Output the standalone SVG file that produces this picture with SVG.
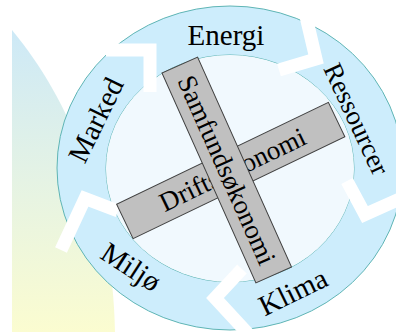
<svg xmlns="http://www.w3.org/2000/svg" width="396" height="332" viewBox="0 0 396 332">
<defs>
<linearGradient id="bg" x1="0" y1="30" x2="0" y2="332" gradientUnits="userSpaceOnUse">
<stop offset="0" stop-color="#cde9f7"/>
<stop offset="0.5" stop-color="#e5f3e4"/>
<stop offset="1" stop-color="#fbfcd0"/>
</linearGradient>
<style>
.lbl{font-family:"Liberation Serif","Times New Roman",serif;fill:#000;text-anchor:middle}
.gap{fill:none;stroke:#fff;stroke-width:13;stroke-linejoin:miter;stroke-miterlimit:10;stroke-linecap:butt}
.bar{fill:#c0c0c0;stroke:#404040;stroke-width:1}
</style>
</defs>
<rect width="396" height="332" fill="#fff"/>
<path id="backdrop" d="M12,30 C70,100 112,200 115,332 L12,332 Z" fill="url(#bg)"/>
<g id="ring">
<path d="M57,168 a173,162 0 1,0 346,0 a173,162 0 1,0 -346,0 Z M106,168.5 a124,113.5 0 1,0 248,0 a124,113.5 0 1,0 -248,0 Z" fill="#cdedfc" fill-rule="evenodd" stroke="#5fb5b5" stroke-width="1"/>
<ellipse cx="230" cy="168.5" rx="124" ry="113.5" fill="#f1f9fe"/>
</g>
<g id="connectors">
<polyline class="gap" points="106,50 150,50 150,92"/>
<polyline class="gap" points="304,8 316,59 279,70"/>
<polyline class="gap" points="347,181 365,214.5 404,197"/>
<polyline class="gap" points="242,269 215,298 252,338"/>
<polyline class="gap" points="61,250 85,198.5 118,211"/>
</g>
<g id="energi"><text class="lbl" font-size="29" transform="translate(226,35)" y="9.6">Energi</text></g>
<g id="ressourcer"><text class="lbl" font-size="27" transform="translate(356.5,119) rotate(65)" y="9">Ressourcer</text></g>
<g id="klima"><text class="lbl" font-size="29" transform="translate(293,292) rotate(-26)" y="9.6">Klima</text></g>
<g id="miljo"><text class="lbl" font-size="29" transform="translate(131,267) rotate(33)" y="9.6">Miljø</text></g>
<g id="marked"><text class="lbl" font-size="29" transform="translate(96,120) rotate(-64)" y="9.6">Marked</text></g>
<g id="driftsokonomi" transform="translate(230.75,170.5) rotate(-25.7)">
<rect class="bar" x="-117.5" y="-19" width="235" height="38"/>
<text class="lbl" font-size="27" x="2" y="9">Driftsøkonomi</text>
</g>
<g id="samfundsokonomi" transform="translate(226.75,170) rotate(-24.1)">
<rect class="bar" x="-19.5" y="-115" width="39" height="230"/>
<text class="lbl" font-size="27" transform="rotate(90)" x="0" y="9">Samfundsøkonomi</text>
</g>
</svg>
